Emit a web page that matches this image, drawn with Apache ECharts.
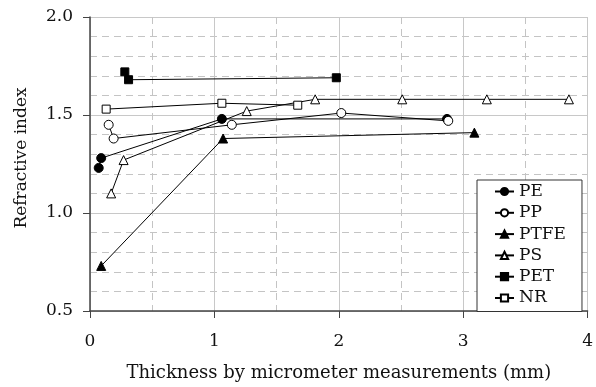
<!DOCTYPE html>
<html>
<head>
<meta charset="utf-8">
<script src="https://cdn.jsdelivr.net/npm/echarts@6/dist/echarts.min.js"></script>
<style>html,body{margin:0;padding:0;background:#fff}#c{width:596px;height:387px}</style>
</head>
<body>
<div id="c"></div>
<script>
var seriesNames = ['PE', 'PP', 'PTFE', 'PS', 'PET', 'NR'];
var PE = [[0.07, 1.23], [0.09, 1.28], [1.06, 1.48], [2.87, 1.48]];
var PP = [[0.15, 1.45], [0.19, 1.38], [1.14, 1.45], [2.02, 1.51], [2.88, 1.47]];
var PTFE = [[0.09, 0.73], [1.07, 1.38], [3.09, 1.41]];
var PS = [[0.17, 1.10], [0.27, 1.27], [1.26, 1.52], [1.81, 1.58], [2.51, 1.58], [3.19, 1.58], [3.85, 1.58]];
var PET = [[0.28, 1.72], [0.31, 1.68], [1.98, 1.69]];
var NR = [[0.13, 1.53], [1.06, 1.56], [1.67, 1.55]];
var xTicks = [0, 1, 2, 3, 4];
var yTicks = [0.5, 1.0, 1.5, 2.0];

var FONT = 'DejaVu Serif';
var markers = {
  PE: {symbol: 'circle', fill: '#000', size: 9},
  PP: {symbol: 'circle', fill: '#fff', size: 9},
  PTFE: {symbol: 'triangle', fill: '#000', size: 9},
  PS: {symbol: 'triangle', fill: '#fff', size: 9},
  PET: {symbol: 'rect', fill: '#000', size: 8},
  NR: {symbol: 'rect', fill: '#fff', size: 8}
};
var dataMap = {PE: PE, PP: PP, PTFE: PTFE, PS: PS, PET: PET, NR: NR};

var chart = echarts.init(document.getElementById('c'), null, {renderer: 'canvas'});
var series = seriesNames.map(function (n) {
  var m = markers[n];
  return {
    name: n,
    type: 'line',
    data: dataMap[n],
    symbol: m.symbol,
    symbolSize: m.size,
    showAllSymbol: true,
    lineStyle: {color: '#000', width: 1},
    itemStyle: {color: m.fill, borderColor: '#000', borderWidth: 1},
    emphasis: {disabled: true},
    animation: false
  };
});

chart.setOption({
  animation: false,
  backgroundColor: '#fff',
  grid: {left: 90, right: 6, top: 17, bottom: 71, containLabel: false},
  xAxis: {
    type: 'value', min: 0, max: 4, interval: 1,
    name: 'Thickness by micrometer measurements (mm)',
    nameLocation: 'middle', nameGap: 53,
    nameTextStyle: {fontFamily: FONT, fontSize: 18, color: '#111'},
    axisLine: {show: true, onZero: false, lineStyle: {color: '#444', width: 1.5}},
    axisTick: {show: true, length: 7, lineStyle: {color: '#444', width: 1}},
    axisLabel: {margin: 22, fontFamily: FONT, fontSize: 17, color: '#111',
      formatter: function (v) { return xTicks.indexOf(v) >= 0 ? String(v) : ''; }},
    splitLine: {show: true, lineStyle: {color: '#c8c8c8', width: 1}},
    minorTick: {show: false, splitNumber: 2},
    minorSplitLine: {show: true, lineStyle: {color: '#c4c4c4', width: 1, type: [7, 5]}}
  },
  yAxis: {
    type: 'value', min: 0.5, max: 2.0, interval: 0.5,
    name: 'Refractive index',
    nameLocation: 'middle', nameGap: 60, nameRotate: 90,
    nameTextStyle: {fontFamily: FONT, fontSize: 17, color: '#111', padding: [0, 0, 0, 12]},
    axisLine: {show: true, onZero: false, lineStyle: {color: '#444', width: 1.5}},
    axisTick: {show: true, length: 7, lineStyle: {color: '#444', width: 1}},
    axisLabel: {margin: 17, fontFamily: FONT, fontSize: 17, color: '#111',
      formatter: function (v) { return v.toFixed(1); }},
    splitLine: {show: true, lineStyle: {color: '#c8c8c8', width: 1}},
    minorTick: {show: false, splitNumber: 5},
    minorSplitLine: {show: true, lineStyle: {color: '#c4c4c4', width: 1, type: [7, 5]}}
  },
  legend: {
    data: seriesNames,
    orient: 'vertical',
    left: 477, top: 180,
    padding: [3, 16, 5, 17],
    itemWidth: 19, itemHeight: 9, itemGap: 4.3,
    backgroundColor: '#fff',
    borderColor: '#333', borderWidth: 1, borderRadius: 0,
    selectedMode: false,
    textStyle: {fontFamily: FONT, fontSize: 17, color: '#111', lineHeight: 17}
  },
  series: series
});
</script>
</body>
</html>
